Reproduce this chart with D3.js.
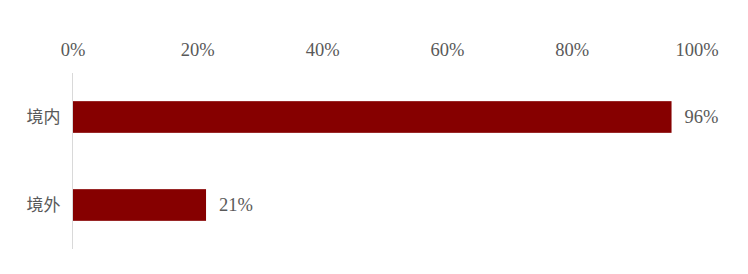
<!DOCTYPE html>
<html>
<head>
<meta charset="utf-8">
<script src="https://cdn.jsdelivr.net/npm/d3@7"></script>
<style>
  body { margin: 0; background: #fff; }
  .num { font-family: "Liberation Serif", serif; fill: #595959; }
  .cat { font-family: "Noto Sans CJK SC", sans-serif; fill: #595959; }
</style>
</head>
<body>
<div id="chart"></div>
<script>
const categories = ['境内', '境外']
const values = [0.96, 0.214]
const tickValues = [0, 0.2, 0.4, 0.6, 0.8, 1]

const W = 748, H = 274

const svg = d3.select('#chart').append('svg')
    .attr('width', W)
    .attr('height', H)

const x = d3.scaleLinear()
    .domain([0, 1])
    .range([72.5, 696.5])

const y = d3.scaleBand()
    .domain(categories)
    .range([73, 249])
    .paddingInner(0.64)
    .paddingOuter(0.32)

// top axis labels only
const xAxis = svg.append('g')
    .attr('transform', 'translate(0,56)')
    .call(d3.axisTop(x).tickValues(tickValues).tickFormat(d3.format('.0%')).tickSize(0).tickPadding(0))

xAxis.select('.domain').remove()
xAxis.selectAll('text')
    .attr('class', 'num')
    .attr('font-size', 18.5)
    .attr('dy', 0)

// vertical category axis line
svg.append('line')
    .attr('x1', x(0)).attr('x2', x(0))
    .attr('y1', 73).attr('y2', 249)
    .attr('stroke', '#d9d9d9')
    .attr('stroke-width', 1)

const data = categories.map((c, i) => ({cat: c, val: values[i]}))

svg.append('g').selectAll('rect')
    .data(data)
    .join('rect')
    .attr('x', x(0) + 0.5)
    .attr('y', d => y(d.cat))
    .attr('width', d => x(d.val) - x(0) - 0.5)
    .attr('height', y.bandwidth())
    .attr('fill', '#860000')

svg.append('g').selectAll('text')
    .data(data)
    .join('text')
    .attr('class', 'num')
    .attr('font-size', 18.5)
    .attr('x', d => x(d.val) + 13)
    .attr('y', d => y(d.cat) + y.bandwidth() / 2)
    .attr('dy', '0.35em')
    .text(d => d3.format('.0%')(d.val))

svg.append('g').selectAll('text')
    .data(data)
    .join('text')
    .attr('class', 'cat')
    .attr('font-size', 17)
    .attr('text-anchor', 'end')
    .attr('x', x(0) - 12)
    .attr('y', d => y(d.cat) + y.bandwidth() / 2)
    .attr('dy', '0.35em')
    .text(d => d.cat)
</script>
</body>
</html>
